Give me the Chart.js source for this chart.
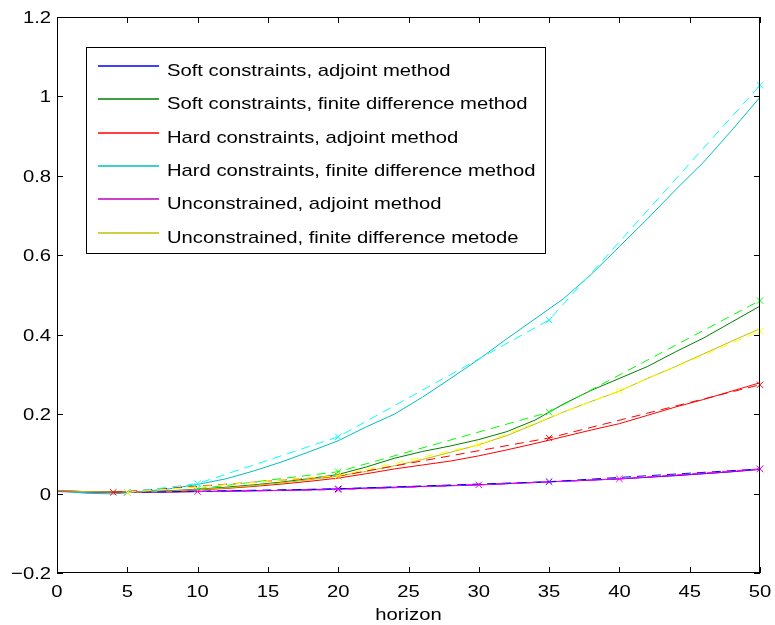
<!DOCTYPE html>
<html>
<head>
<meta charset="utf-8">
<script src="https://cdn.jsdelivr.net/npm/chart.js@4.4.1/dist/chart.umd.min.js"></script>
<style>
  html, body { margin: 0; padding: 0; background: #fff; }
  #wrap { width: 775px; height: 625px; }
</style>
</head>
<body>
<div id="wrap"><canvas id="chart" width="775" height="625"></canvas></div>
<script>
// full sweep over the horizon (solid lines)
const horizon = [0, 2, 4, 6, 8, 10, 12, 14, 16, 18, 20, 22, 24, 26, 28, 30, 32, 34, 36, 38, 40, 42, 44, 46, 48, 50];
const softAdjoint = [0.005, 0.004, 0.003, 0.003, 0.004, 0.005, 0.006, 0.007, 0.008, 0.010, 0.012, 0.014, 0.016, 0.018, 0.020, 0.022, 0.025, 0.028, 0.031, 0.034, 0.037, 0.041, 0.045, 0.050, 0.055, 0.061];
const softFinite = [0.007, 0.005, 0.004, 0.005, 0.007, 0.011, 0.016, 0.022, 0.029, 0.038, 0.048, 0.067, 0.089, 0.106, 0.120, 0.136, 0.156, 0.185, 0.225, 0.260, 0.290, 0.320, 0.357, 0.392, 0.432, 0.472];
const hardAdjoint = [0.007, 0.005, 0.004, 0.004, 0.006, 0.009, 0.013, 0.018, 0.024, 0.031, 0.039, 0.050, 0.062, 0.072, 0.082, 0.095, 0.110, 0.126, 0.143, 0.160, 0.176, 0.197, 0.218, 0.237, 0.258, 0.279];
const hardFinite = [0.007, 0.001, -0.001, 0.005, 0.012, 0.023, 0.037, 0.057, 0.080, 0.106, 0.133, 0.168, 0.200, 0.243, 0.290, 0.338, 0.390, 0.440, 0.490, 0.552, 0.622, 0.692, 0.765, 0.835, 0.915, 0.998];
const unconAdjoint = [0.006, 0.005, 0.004, 0.004, 0.004, 0.005, 0.006, 0.007, 0.008, 0.009, 0.011, 0.013, 0.015, 0.018, 0.020, 0.022, 0.025, 0.028, 0.031, 0.034, 0.037, 0.041, 0.046, 0.050, 0.055, 0.061];
const unconFinite = [0.007, 0.005, 0.004, 0.004, 0.006, 0.010, 0.014, 0.020, 0.027, 0.035, 0.044, 0.056, 0.070, 0.086, 0.104, 0.123, 0.146, 0.175, 0.205, 0.232, 0.258, 0.290, 0.320, 0.352, 0.384, 0.415];

// sampled runs (dashed lines with x markers)
const softAdjointX = [5, 20, 35, 50];
const softAdjointY = [0.003, 0.012, 0.030, 0.062];
const softFiniteX = [10, 20, 35, 50];
const softFiniteY = [0.012, 0.055, 0.205, 0.486];
const hardAdjointX = [4, 20, 35, 50];
const hardAdjointY = [0.003, 0.044, 0.140, 0.274];
const hardFiniteX = [5, 10, 20, 35, 50];
const hardFiniteY = [0.003, 0.025, 0.143, 0.437, 1.028];
const unconAdjointX = [10, 20, 30, 40, 50];
const unconAdjointY = [0.005, 0.010, 0.022, 0.037, 0.062];
const unconFiniteX = [5, 20, 30, 40, 50];
const unconFiniteY = [0.003, 0.045, 0.123, 0.259, 0.409];

const labels = [
  'Soft constraints, adjoint method',
  'Soft constraints, finite difference method',
  'Hard constraints, adjoint method',
  'Hard constraints, finite difference method',
  'Unconstrained, adjoint method',
  'Unconstrained, finite difference metode'
];

const xTicks = [0, 5, 10, 15, 20, 25, 30, 35, 40, 45, 50];
const yTicks = [-0.2, 0, 0.2, 0.4, 0.6, 0.8, 1, 1.2];
const xTitle = 'horizon';

const FONT = "17px 'Liberation Sans', Arial, Helvetica, sans-serif";
const STRETCH = 1.19; // the source figure's text is a bit wide
const solidColors = ['#0000ff', '#008000', '#ff0000', '#00bfbf', '#bf00bf', '#bfbf00'];
const dashColors = ['#0000ff', '#00ff00', '#ff0000', '#00ffff', '#ff00ff', '#ffff00'];

const solids = [softAdjoint, softFinite, hardAdjoint, hardFinite, unconAdjoint, unconFinite];
const sampled = [
  [softAdjointX, softAdjointY], [softFiniteX, softFiniteY], [hardAdjointX, hardAdjointY],
  [hardFiniteX, hardFiniteY], [unconAdjointX, unconAdjointY], [unconFiniteX, unconFiniteY]
];

const toPts = (xs, ys) => xs.map((x, i) => ({ x, y: ys[i] }));

// matlab draws later lines on top -> lower chart.js order
const datasets = [];
solids.forEach((ys, i) => {
  datasets.push({
    label: labels[i],
    data: toPts(horizon, ys),
    borderColor: solidColors[i],
    borderWidth: 1,
    pointRadius: 0,
    tension: 0,
    order: 20 - i
  });
});
sampled.forEach(([xs, ys], i) => {
  datasets.push({
    label: labels[i] + ' (samples)',
    data: toPts(xs, ys),
    borderColor: dashColors[i],
    backgroundColor: dashColors[i],
    borderWidth: 1,
    borderDash: [9, 6],
    pointStyle: 'crossRot',
    pointRadius: 4.5,
    pointBorderWidth: 1,
    pointBorderColor: dashColors[i],
    tension: 0,
    clip: false,
    order: 10 - i
  });
});

function wideText(ctx, txt, x, y, align) {
  const w = ctx.measureText(txt).width * STRETCH;
  const left = align === 'right' ? x - w : align === 'center' ? x - w / 2 : x;
  ctx.save();
  ctx.translate(left, y);
  ctx.scale(STRETCH, 1);
  ctx.textAlign = 'left';
  ctx.fillText(txt, 0, 0);
  ctx.restore();
}

const fmtY = v => {
  const r = Math.round(v * 10) / 10;
  return r < 0 ? '\u2212' + Math.abs(r) : String(r);
};

/* ── matlab style box, inward ticks, labels and legend ──── */
const matlabFrame = {
  id: 'matlabFrame',
  afterDraw(chart) {
    const { ctx, chartArea: a, scales: { x, y } } = chart;
    ctx.save();
    ctx.strokeStyle = '#000';
    ctx.lineWidth = 1;
    ctx.beginPath();
    xTicks.forEach(v => {
      const px = Math.round(x.getPixelForValue(v)) + 0.5;
      ctx.moveTo(px, a.bottom); ctx.lineTo(px, a.bottom - 6);
      ctx.moveTo(px, a.top); ctx.lineTo(px, a.top + 6);
    });
    yTicks.forEach(v => {
      const py = Math.round(y.getPixelForValue(v)) + 0.5;
      ctx.moveTo(a.left, py); ctx.lineTo(a.left + 6, py);
      ctx.moveTo(a.right, py); ctx.lineTo(a.right - 6, py);
    });
    ctx.stroke();
    ctx.strokeRect(a.left + 0.5, a.top + 0.5, a.width - 1, a.height - 1);

    // tick labels and axis title
    ctx.fillStyle = '#000';
    ctx.font = FONT;
    ctx.textBaseline = 'alphabetic';
    xTicks.forEach(v => wideText(ctx, String(v), x.getPixelForValue(v), a.bottom + 24, 'center'));
    yTicks.forEach(v => wideText(ctx, fmtY(v), a.left - 6, y.getPixelForValue(v) + 6, 'right'));
    wideText(ctx, xTitle, (a.left + a.right) / 2, 620, 'center');

    // legend (solid lines only)
    const box = { l: 86.5, t: 47.5, w: 459, h: 206 };
    ctx.fillStyle = '#fff';
    ctx.fillRect(box.l, box.t, box.w, box.h);
    ctx.strokeStyle = '#000';
    ctx.strokeRect(box.l, box.t, box.w, box.h);
    labels.forEach((txt, i) => {
      const cy = Math.round(66 + i * 33.3);
      ctx.strokeStyle = solidColors[i];
      ctx.lineWidth = 1.5;
      ctx.beginPath();
      ctx.moveTo(98, cy);
      ctx.lineTo(159, cy);
      ctx.stroke();
      ctx.fillStyle = '#000';
      wideText(ctx, txt, 167, cy + 10, 'left');
    });
    ctx.restore();
  }
};

new Chart(document.getElementById('chart'), {
  type: 'line',
  data: { datasets },
  options: {
    responsive: false,
    animation: false,
    events: [],
    layout: { padding: { left: 0, right: 15, top: 17, bottom: 0 } },
    plugins: { legend: { display: false }, tooltip: { enabled: false } },
    scales: {
      x: {
        type: 'linear',
        min: 0, max: 50,
        afterBuildTicks: s => { s.ticks = xTicks.map(value => ({ value })); },
        afterFit: s => { s.height = 52; },
        grid: { display: false },
        border: { display: false },
        ticks: { display: false }
      },
      y: {
        type: 'linear',
        min: -0.2, max: 1.2,
        afterBuildTicks: s => { s.ticks = yTicks.map(value => ({ value })); },
        afterFit: s => { s.width = 57; },
        grid: { display: false },
        border: { display: false },
        ticks: { display: false }
      }
    }
  },
  plugins: [matlabFrame]
});
</script>
</body>
</html>
